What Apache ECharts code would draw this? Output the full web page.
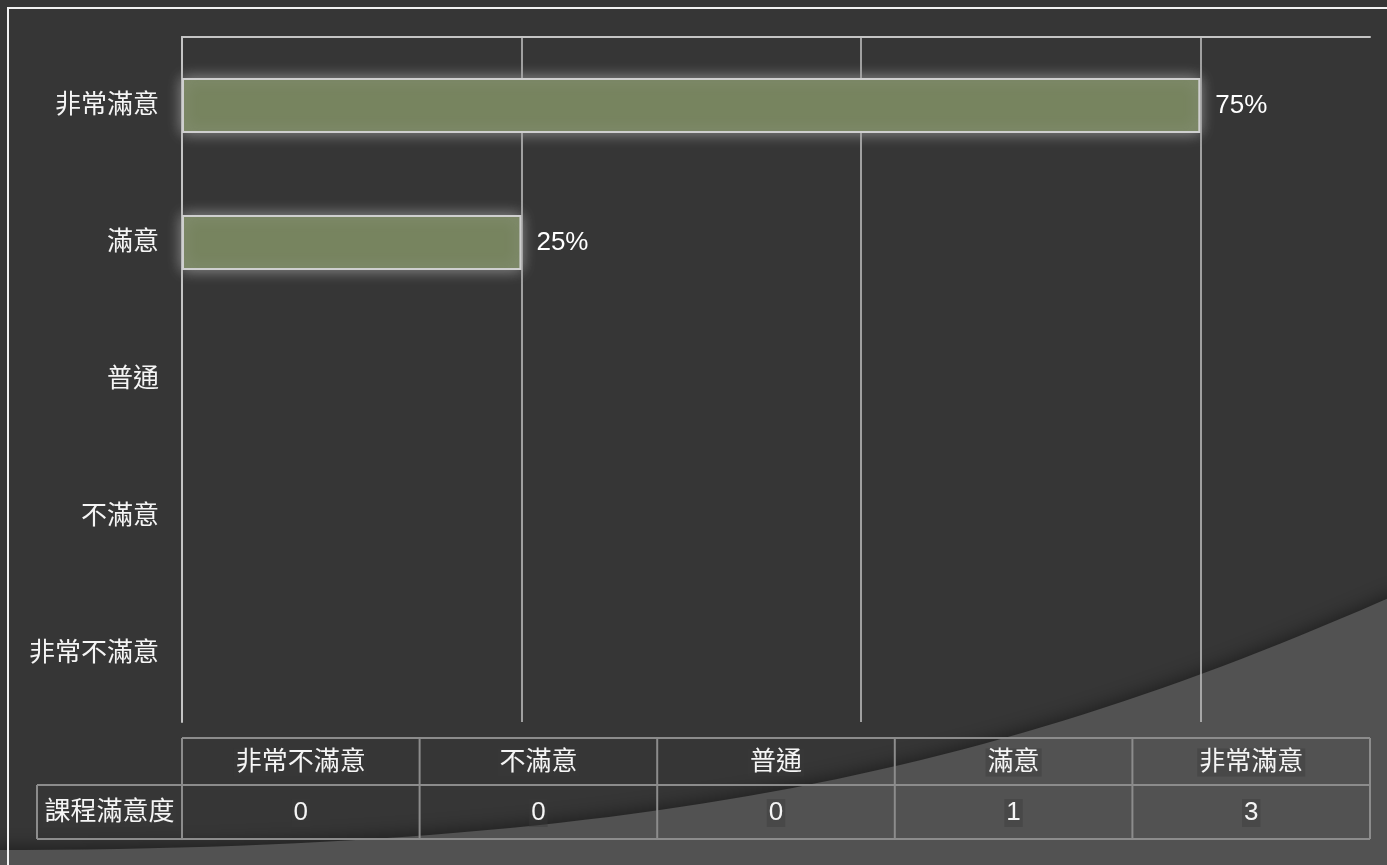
<!DOCTYPE html>
<html>
<head>
<meta charset="utf-8">
<script src="https://cdn.jsdelivr.net/npm/echarts@6/dist/echarts.min.js"></script>
<style>
html,body{margin:0;padding:0;background:#363636;}
#c{width:1387px;height:865px;}
</style>
</head>
<body>
<div id="c"></div>
<script>
// ---- data ----
const categories = ['非常滿意', '滿意', '普通', '不滿意', '非常不滿意']; // top to bottom
const counts = [3, 1, 0, 0, 0];
const tableCategories = ['非常不滿意', '不滿意', '普通', '滿意', '非常滿意'];
const tableCounts = [0, 0, 0, 1, 3];
const tableRowLabel = '課程滿意度';

const FONT = '"Liberation Sans", Arial, "Noto Sans CJK TC", sans-serif';
const total = counts.reduce((a, b) => a + b, 0);

const chart = echarts.init(document.getElementById('c'), null, {renderer: 'canvas'});

// table layout
const gridLeft = 182, gridRight = 1370;
const tTop = 738, tMid = 785, tBot = 839, labelLeft = 37;
const colW = (gridRight - gridLeft) / tableCategories.length;
const lineStyle = {stroke: '#8c8c8c', lineWidth: 2};
const graphics = [];

// background swoosh (decorative slide theme shape)
function bez(p0, p1, p2, p3, t) {
  const u = 1 - t;
  return u*u*u*p0 + 3*u*u*t*p1 + 3*u*t*t*p2 + t*t*t*p3;
}
const swoosh = [];
for (let i = 0; i <= 60; i++) {
  const t = i / 60;
  swoosh.push([bez(-10, 650, 1000, 1400, t), bez(850, 850, 770, 593, t)]);
}
swoosh.push([1400, 880], [-10, 880]);
graphics.push({
  type: 'polygon', z: -10, silent: true,
  shape: {points: swoosh},
  style: {fill: '#525252', shadowBlur: 18, shadowColor: 'rgba(0,0,0,0.45)', shadowOffsetY: -2}
});
// slide border
graphics.push({
  type: 'rect', z: 50, silent: true,
  shape: {x: 8, y: 8, width: 1400, height: 900},
  style: {fill: 'none', stroke: '#f2f2f2', lineWidth: 2}
});
// table lines
function hline(x1, x2, y) { graphics.push({type: 'line', z: 5, silent: true, shape: {x1: x1, y1: y, x2: x2, y2: y}, style: lineStyle}); }
function vline(x, y1, y2) { graphics.push({type: 'line', z: 5, silent: true, shape: {x1: x, y1: y1, x2: x, y2: y2}, style: lineStyle}); }
hline(gridLeft, gridRight, tTop);
hline(labelLeft, gridRight, tMid);
hline(labelLeft, gridRight, tBot);
vline(labelLeft, tMid, tBot);
for (let i = 0; i <= tableCategories.length; i++) vline(gridLeft + i * colW, tTop, tBot);

function cellText(txt, x, y) {
  graphics.push({
    type: 'text', z: 6, x: x, y: y, silent: true,
    style: {
      text: txt, fill: '#f5f5f5', font: '26px ' + FONT,
      align: 'center', verticalAlign: 'middle',
      backgroundColor: 'rgba(58,58,58,0.4)', padding: [2, 2, 0, 2]
    }
  });
}
tableCategories.forEach((c, i) => cellText(c, gridLeft + (i + 0.5) * colW, (tTop + tMid) / 2 + 1));
tableCounts.forEach((v, i) => cellText(String(v), gridLeft + (i + 0.5) * colW, (tMid + tBot) / 2 + 1));
cellText(tableRowLabel, (labelLeft + gridLeft) / 2, (tMid + tBot) / 2 + 1);

const barStyle = {
  color: '#77845f', borderColor: '#cfcfcf', borderWidth: 2,
  shadowBlur: 14, shadowColor: 'rgba(165,165,165,0.85)'
};
const barData = counts.map(v => v ? {value: v} :
  {value: v, itemStyle: {borderWidth: 0, shadowBlur: 0, opacity: 0}});

const option = {
  backgroundColor: '#363636',
  animation: false,
  textStyle: {fontFamily: FONT},
  grid: {left: gridLeft, right: 1387 - gridRight, top: 37, bottom: 865 - 722, containLabel: false},
  xAxis: {
    type: 'value', min: 0, max: 3.5, interval: 1, position: 'top',
    axisLine: {show: true, lineStyle: {color: '#c4c4c4', width: 2}},
    axisTick: {show: false},
    axisLabel: {show: false},
    splitLine: {show: true, showMaxLine: false, lineStyle: {color: '#c4c4c4', width: 1.5}}
  },
  yAxis: {
    type: 'category', data: categories, inverse: true,
    axisLine: {show: true, lineStyle: {color: '#c4c4c4', width: 2}},
    axisTick: {show: false},
    axisLabel: {color: '#f5f5f5', fontSize: 26, margin: 23, fontFamily: FONT}
  },
  series: [{
    type: 'bar', data: barData, barWidth: '40%',
    itemStyle: barStyle,
    label: {
      show: true, position: 'right', distance: 15,
      color: '#ffffff', fontSize: 26, fontFamily: FONT,
      formatter: p => p.value ? Math.round(p.value / total * 100) + '%' : ''
    }
  }],
  graphic: graphics
};
chart.setOption(option);
</script>
</body>
</html>
